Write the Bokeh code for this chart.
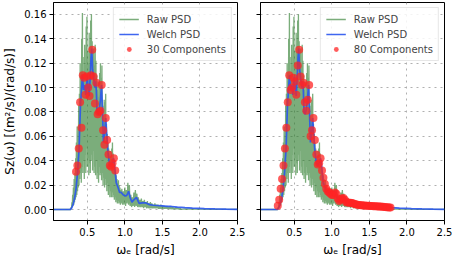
from bokeh.plotting import figure
from bokeh.layouts import row
from bokeh.models import (Range1d, FixedTicker, NumeralTickFormatter, Legend,
                          CustomJSTickFormatter)
from bokeh.embed import file_html
from bokeh.resources import INLINE

# ---------------- data ----------------
# raw periodogram, part A: 0.280 .. 0.945 rad/s every 0.005
raw_s_a = [
    0.000, 0.002, 0.001, 0.006, 0.002, 0.012, 0.003, 0.018, 0.004, 0.025,
    0.006, 0.030, 0.008, 0.042, 0.010, 0.055, 0.012, 0.068, 0.015, 0.060,
    0.018, 0.085, 0.020, 0.095, 0.025, 0.120, 0.030, 0.105, 0.022, 0.140,
    0.035, 0.161, 0.030, 0.125, 0.040, 0.110, 0.025, 0.135, 0.045, 0.118,
    0.030, 0.150, 0.050, 0.158, 0.035, 0.130, 0.042, 0.120, 0.028, 0.145,
    0.038, 0.128, 0.030, 0.155, 0.045, 0.160, 0.040, 0.138, 0.032, 0.125,
    0.048, 0.132, 0.030, 0.118, 0.035, 0.135, 0.028, 0.122, 0.040, 0.110,
    0.025, 0.098, 0.030, 0.105, 0.022, 0.092, 0.035, 0.112, 0.028, 0.120,
    0.030, 0.108, 0.024, 0.118, 0.030, 0.085, 0.020, 0.072, 0.026, 0.090,
    0.018, 0.088, 0.025, 0.095, 0.020, 0.070, 0.015, 0.062, 0.022, 0.055,
    0.012, 0.050, 0.018, 0.044, 0.010, 0.048, 0.015, 0.042, 0.010, 0.050,
    0.014, 0.055, 0.010, 0.046, 0.012, 0.040, 0.008, 0.035, 0.010, 0.030,
    0.006, 0.028, 0.008, 0.025, 0.005, 0.022, 0.007, 0.024, 0.005, 0.020,
    0.006, 0.018, 0.004, 0.016,
]
# raw periodogram, part B: 0.95 .. 1.75 rad/s every 0.01
raw_s_b = [
    0.005, 0.017, 0.004, 0.015, 0.004, 0.018, 0.003, 0.016, 0.005, 0.022,
    0.004, 0.020, 0.003, 0.012, 0.002, 0.010, 0.003, 0.014, 0.002, 0.016,
    0.003, 0.013, 0.002, 0.010, 0.002, 0.008, 0.002, 0.009, 0.002, 0.007,
    0.001, 0.008, 0.002, 0.006, 0.001, 0.007, 0.001, 0.005, 0.001, 0.006,
    0.001, 0.005, 0.001, 0.004, 0.001, 0.005, 0.001, 0.004, 0.001, 0.004,
    0.0005, 0.003, 0.0005, 0.004, 0.0005, 0.003, 0.0005, 0.003, 0.0005, 0.0025,
    0.0005, 0.003, 0.0005, 0.002, 0.0005, 0.0025, 0.0003, 0.002, 0.0003, 0.0018,
    0.0003, 0.0015, 0.0003, 0.0018, 0.0002, 0.0012, 0.0002, 0.0010, 0.0002, 0.0008,
    0.0002,
]
raw_head_w = [0.05, 0.27]
raw_head_s = [0.0, 0.0]
raw_tail_w = [1.80, 1.90, 2.00, 2.20, 2.50]
raw_tail_s = [0.0006, 0.0004, 0.0003, 0.0002, 0.0001]

welch_w = [0.05, 0.27, 0.29, 0.31, 0.33, 0.35, 0.37, 0.38, 0.39, 0.40,
           0.41, 0.42, 0.435, 0.45, 0.465, 0.48, 0.49, 0.50, 0.51, 0.525,
           0.54, 0.55, 0.56, 0.57, 0.585, 0.60, 0.61, 0.62, 0.63, 0.645,
           0.66, 0.675, 0.69, 0.70, 0.715, 0.73, 0.745, 0.76, 0.775, 0.79,
           0.81, 0.83, 0.85, 0.865, 0.885, 0.91, 0.93, 0.95, 0.98, 1.01,
           1.03, 1.05, 1.07, 1.095, 1.12, 1.155, 1.19, 1.23, 1.28, 1.33,
           1.38, 1.43, 1.50, 1.56, 1.62, 1.70, 1.80, 1.90, 2.06, 2.20,
           2.35, 2.50]
welch_s = [0.0, 0.0, 0.001, 0.004, 0.009, 0.017, 0.030, 0.040, 0.049, 0.068,
           0.087, 0.095, 0.110, 0.098, 0.102, 0.094, 0.101, 0.109, 0.100, 0.093,
           0.110, 0.125, 0.132, 0.115, 0.108, 0.100, 0.105, 0.098, 0.080, 0.078,
           0.082, 0.090, 0.102, 0.085, 0.055, 0.062, 0.075, 0.060, 0.047, 0.040,
           0.036, 0.038, 0.042, 0.035, 0.022, 0.018, 0.014, 0.014, 0.012, 0.011,
           0.012, 0.015, 0.010, 0.006, 0.008, 0.010, 0.005, 0.0055, 0.0054, 0.004,
           0.0035, 0.0033, 0.003, 0.0026, 0.0025, 0.002, 0.0015, 0.0012, 0.0008, 0.0005,
           0.0003, 0.0002]

comp30_w = [0.350, 0.368, 0.386, 0.404, 0.422, 0.440, 0.458, 0.476, 0.494, 0.512,
            0.530, 0.548, 0.566, 0.584, 0.602, 0.620, 0.638, 0.656, 0.674, 0.692,
            0.710, 0.728, 0.746, 0.764, 0.782, 0.800, 0.818, 0.836, 0.854, 0.872]
comp30_s = [0.031, 0.036, 0.050, 0.088, 0.067, 0.110, 0.108, 0.094, 0.109, 0.100,
            0.093, 0.110, 0.131, 0.109, 0.087, 0.104, 0.078, 0.080, 0.081, 0.102,
            0.065, 0.053, 0.075, 0.057, 0.045, 0.036, 0.035, 0.038, 0.042, 0.032]

comp80_s = [0.003, 0.008, 0.017, 0.025, 0.036, 0.050, 0.067, 0.088, 0.110, 0.098,
            0.100, 0.108, 0.105, 0.094, 0.118, 0.131, 0.109, 0.102, 0.104, 0.088,
            0.081, 0.090, 0.102, 0.060, 0.065, 0.075, 0.057, 0.045, 0.037, 0.038,
            0.042, 0.032, 0.026, 0.021, 0.017, 0.015, 0.014, 0.013, 0.012, 0.012,
            0.014, 0.013, 0.009, 0.007, 0.008, 0.009, 0.0095, 0.008, 0.006, 0.0058,
            0.0056, 0.0055, 0.0054, 0.005, 0.0045, 0.0042, 0.004, 0.0038, 0.0036, 0.0034,
            0.0033, 0.0032, 0.0031, 0.003, 0.003, 0.0029, 0.0028, 0.0027, 0.0026, 0.0026,
            0.0025, 0.0025, 0.0024, 0.0023, 0.0022, 0.002, 0.0019, 0.0018, 0.0017, 0.0016]
comp80_w = [round(0.28 + 0.019 * k, 3) for k in range(len(comp80_s))]

x_ticks = [0.5, 1.0, 1.5, 2.0, 2.5]
y_ticks = [0.00, 0.02, 0.04, 0.06, 0.08, 0.10, 0.12, 0.14, 0.16]

raw_w = (raw_head_w
         + [round(0.280 + 0.005 * i, 3) for i in range(len(raw_s_a))]
         + [round(0.95 + 0.01 * i, 2) for i in range(len(raw_s_b))]
         + raw_tail_w)
raw_s = raw_head_s + raw_s_a + raw_s_b + raw_tail_s

# ---------------- style ----------------
FONT = "DejaVu Sans"
GREEN = "#2a7a2a"
BLUE = "#2a55ee"
RED = "#ff2424"

y_range = Range1d(-0.009, 0.1697)


def make_fig(comp_w, comp_s, comp_label, left_labels, min_left, min_right):
    p = figure(frame_width=184, frame_height=218,
               x_range=Range1d(0.05, 2.5), y_range=y_range,
               output_backend="svg", toolbar_location=None,
               min_border_top=2, min_border_bottom=0,
               min_border_left=min_left, min_border_right=min_right,
               background_fill_color="white", border_fill_color="white")
    r_raw = p.line(raw_w, raw_s, line_color=GREEN, line_alpha=0.62, line_width=1.3)
    r_w = p.line(welch_w, welch_s, line_color=BLUE, line_alpha=0.9, line_width=1.7)
    r_c = p.scatter(comp_w, comp_s, size=8, fill_color=RED, fill_alpha=0.75,
                    line_color=None)
    leg = Legend(items=[("Raw PSD", [r_raw]), ("Welch PSD", [r_w]),
                        (comp_label, [r_c])],
                 location="top_right")
    leg.label_text_font = FONT
    leg.label_text_font_size = "10px"
    leg.glyph_width = 20
    leg.glyph_height = 12
    leg.label_standoff = 8
    leg.spacing = 3
    leg.padding = 5
    leg.margin = 5
    leg.border_line_color = "#d0d0d0"
    leg.background_fill_alpha = 0.85
    p.add_layout(leg)

    p.outline_line_color = "black"
    p.outline_line_alpha = 1
    p.outline_line_width = 1
    p.grid.grid_line_color = "#b0b0b0"
    p.grid.grid_line_dash = "dotted"
    p.grid.grid_line_width = 1

    p.xaxis.ticker = FixedTicker(ticks=x_ticks)
    p.xaxis.formatter = NumeralTickFormatter(format="0.0")
    p.yaxis.ticker = FixedTicker(ticks=y_ticks)
    if left_labels:
        p.yaxis.formatter = NumeralTickFormatter(format="0.00")
        p.yaxis.axis_label = "Sz(\u03c9) [(m\u00b2/s)/(rad/s)]"
    else:
        p.yaxis.formatter = CustomJSTickFormatter(code="return ''")
    p.xaxis.axis_label = "\u03c9\u2091 [rad/s]"
    for ax in (p.xaxis[0], p.yaxis[0]):
        ax.axis_line_color = "black"
        ax.major_tick_line_color = "black"
        ax.major_tick_out = 4
        ax.major_tick_in = 0
        ax.minor_tick_line_color = None
        ax.major_label_text_font = FONT
        ax.major_label_text_font_size = "10px"
        ax.major_label_text_color = "black"
        ax.major_label_standoff = 3
        ax.axis_label_text_font = FONT
        ax.axis_label_text_font_size = "12px"
        ax.axis_label_text_font_style = "normal"
        ax.axis_label_text_color = "black"
        ax.axis_label_standoff = 4
    return p


p1 = make_fig(comp30_w, comp30_s, "30 Components", True, 45, 10)
p2 = make_fig(comp80_w, comp80_s, "80 Components", False, 13, 8)

layout = row(p1, p2)
open("out.html", "w").write(file_html(layout, INLINE))
